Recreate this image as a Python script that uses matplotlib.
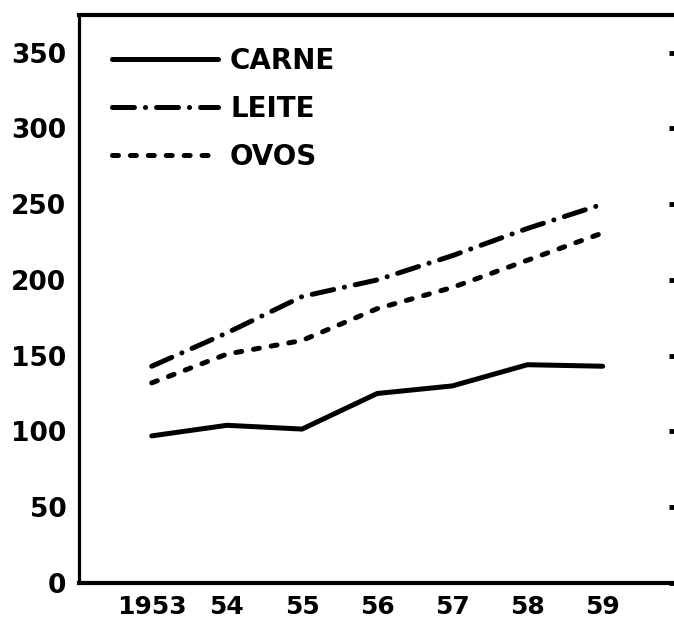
import matplotlib
matplotlib.use('Agg')
import matplotlib.pyplot as plt

# ---- data ----
years = [1953, 1954, 1955, 1956, 1957, 1958, 1959]
year_labels = ['1953', '54', '55', '56', '57', '58', '59']
carne = [97, 104, 101.5, 125, 130, 144, 143]
leite = [143, 165, 189, 200, 216, 234, 250]
ovos = [132, 151, 160, 181, 195, 213, 231]
yticks = [0, 50, 100, 150, 200, 250, 300, 350]
series_labels = ['CARNE', 'LEITE', 'OVOS']

plt.rcParams['font.family'] = ['DejaVu Sans']
plt.rcParams['font.weight'] = 'bold'
plt.rcParams['lines.scale_dashes'] = False

fig = plt.figure(figsize=(6.74, 6.2), dpi=100)
ax = fig.add_axes([0.117, 0.06, 0.883, 0.916])

lw = 3.6
ax.plot(years, carne, color='black', lw=lw, solid_capstyle='round',
        solid_joinstyle='round', label=series_labels[0])
ax.plot(years, leite, color='black', lw=lw, ls=(0, (15.8, 7.9, 0.1, 7.9)),
        dash_capstyle='round', label=series_labels[1])
ax.plot(years, ovos, color='black', lw=lw, ls=(0, (4.3, 8.6)),
        dash_capstyle='round', label=series_labels[2])

ax.set_xlim(1952.03, 1959.95)
ax.set_ylim(0, 375)
ax.set_xticks(years)
ax.set_xticklabels(year_labels)
ax.set_yticks(yticks)
ax.set_yticklabels([str(v) for v in yticks])

ax.tick_params(axis='x', bottom=False, labelsize=18, pad=5)
ax.tick_params(axis='y', left=False, right=True, direction='in', length=3.5,
               width=3.5, labelsize=19, pad=9)
for lab in ax.get_xticklabels() + ax.get_yticklabels():
    lab.set_fontweight('bold')

ax.spines['right'].set_visible(False)
ax.spines['left'].set_linewidth(2.3)
ax.spines['bottom'].set_linewidth(3)
ax.spines['top'].set_linewidth(3)

leg = ax.legend(loc='upper left', bbox_to_anchor=(112 / 674, 1 - 47 / 620),
                bbox_transform=fig.transFigure, frameon=False,
                handlelength=3.8, handletextpad=0.45, labelspacing=0.72,
                borderpad=0, borderaxespad=0,
                prop={'size': 20, 'weight': 'bold'})

fig.savefig('out.png', dpi=100, facecolor='white')
